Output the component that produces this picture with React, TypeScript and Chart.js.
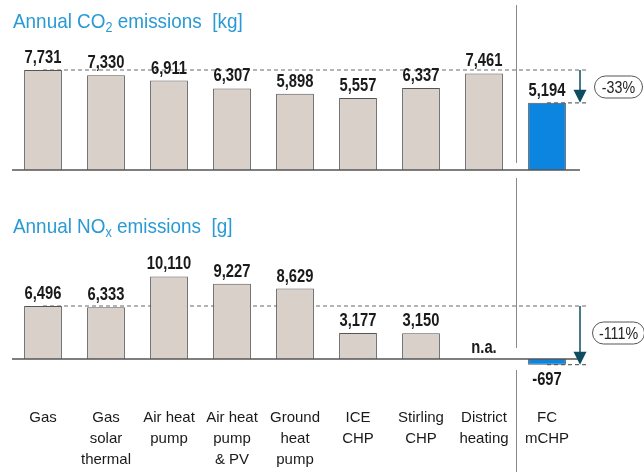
import React, { useEffect, useRef } from 'react';
import { Chart, registerables } from 'chart.js';

Chart.register(...registerables);

// ---- data ----
const categories: string[][] = [
  ['Gas'],
  ['Gas', 'solar', 'thermal'],
  ['Air heat', 'pump'],
  ['Air heat', 'pump', '& PV'],
  ['Ground', 'heat', 'pump'],
  ['ICE', 'CHP'],
  ['Stirling', 'CHP'],
  ['District', 'heating'],
  ['FC', 'mCHP'],
];
const co2Values: (number | null)[] = [7731, 7330, 6911, 6307, 5898, 5557, 6337, 7461, 5194];
const noxValues: (number | null)[] = [6496, 6333, 10110, 9227, 8629, 3177, 3150, null, -697];
const co2Change = '-33%';
const noxChange = '-111%';
const co2Title = ['Annual CO', '2', ' emissions  [kg]'];
const noxTitle = ['Annual NO', 'x', ' emissions  [g]'];

// ---- styles ----
const BEIGE = '#d9d0c9';
const BLUE = '#0b85e0';
const TITLE_BLUE = '#2a9ad5';
const ARROW = '#0e4d61';
const SANS = '"Liberation Sans", Arial, sans-serif';
const VALUE_FONT = `bold 18px ${SANS}`;
const NARROW = 0.82;

const barColors = (vals: (number | null)[]) => vals.map((_, i) => (i === vals.length - 1 ? BLUE : BEIGE));

function textScaled(ctx: CanvasRenderingContext2D, text: string, x: number, y: number, sx: number) {
  ctx.save();
  ctx.translate(x, y);
  ctx.scale(sx, 1);
  ctx.fillText(text, 0, 0);
  ctx.restore();
}

function dashed(ctx: CanvasRenderingContext2D, x1: number, y1: number, x2: number, y2: number) {
  ctx.save();
  ctx.strokeStyle = '#6a6a6a';
  ctx.lineWidth = 1.2;
  ctx.setLineDash([4, 3]);
  ctx.beginPath();
  ctx.moveTo(x1, y1);
  ctx.lineTo(x2, y2);
  ctx.stroke();
  ctx.restore();
}

function pill(ctx: CanvasRenderingContext2D, cx: number, cy: number, w: number, h: number, text: string) {
  ctx.save();
  const r = h / 2;
  const x = cx - w / 2;
  const y = cy - h / 2;
  ctx.beginPath();
  ctx.moveTo(x + r, y);
  ctx.lineTo(x + w - r, y);
  ctx.arc(x + w - r, y + r, r, -Math.PI / 2, Math.PI / 2);
  ctx.lineTo(x + r, y + h);
  ctx.arc(x + r, y + r, r, Math.PI / 2, (3 * Math.PI) / 2);
  ctx.closePath();
  ctx.fillStyle = '#fff';
  ctx.fill();
  ctx.strokeStyle = '#555';
  ctx.lineWidth = 1;
  ctx.stroke();
  ctx.fillStyle = '#222';
  ctx.font = `17px ${SANS}`;
  ctx.textAlign = 'center';
  ctx.textBaseline = 'middle';
  textScaled(ctx, text, cx, cy + 1, 0.84);
  ctx.restore();
}

function arrow(ctx: CanvasRenderingContext2D, x: number, y1: number, y2: number) {
  ctx.save();
  ctx.strokeStyle = ARROW;
  ctx.fillStyle = ARROW;
  ctx.lineWidth = 1.5;
  ctx.beginPath();
  ctx.moveTo(x, y1);
  ctx.lineTo(x, y2 - 12);
  ctx.stroke();
  ctx.beginPath();
  ctx.moveTo(x - 6.5, y2 - 13);
  ctx.lineTo(x + 6.5, y2 - 13);
  ctx.lineTo(x, y2);
  ctx.closePath();
  ctx.fill();
  ctx.restore();
}

function title(ctx: CanvasRenderingContext2D, parts: string[], x: number, y: number) {
  const sx = 0.9;
  ctx.save();
  ctx.fillStyle = TITLE_BLUE;
  ctx.textAlign = 'left';
  ctx.textBaseline = 'alphabetic';
  ctx.font = `21px ${SANS}`;
  textScaled(ctx, parts[0], x, y, sx);
  let cx = x + ctx.measureText(parts[0]).width * sx;
  ctx.font = `14px ${SANS}`;
  textScaled(ctx, parts[1], cx, y + 4, sx);
  cx += ctx.measureText(parts[1]).width * sx;
  ctx.font = `21px ${SANS}`;
  textScaled(ctx, parts[2], cx, y, sx);
  ctx.restore();
}

function vline(ctx: CanvasRenderingContext2D, x: number, segs: [number, number][]) {
  ctx.save();
  ctx.strokeStyle = '#8a8a8a';
  ctx.lineWidth = 1;
  segs.forEach(([a, b]) => {
    ctx.beginPath();
    ctx.moveTo(x, a);
    ctx.lineTo(x, b);
    ctx.stroke();
  });
  ctx.restore();
}

function makePlugin(
  values: (number | null)[],
  change: string,
  titleParts: string[],
  titleY: number,
  pillCy: number,
  pillW: number,
  vsegs: [number, number][]
) {
  return {
    id: 'panelDeco',
    beforeDatasetsDraw(chart: any) {
      const ctx = chart.ctx;
      const xs = chart.scales.x;
      const ys = chart.scales.y;
      const last = values.length - 1;
      const endX = xs.right + 10.5;
      const yRef = ys.getPixelForValue(values[0] as number);
      const yFc = ys.getPixelForValue(values[last] as number);
      dashed(ctx, xs.getPixelForValue(0), yRef, endX, yRef);
      dashed(ctx, xs.getPixelForValue(last), yFc, endX, yFc);
    },
    afterDatasetsDraw(chart: any) {
      const ctx = chart.ctx;
      const xs = chart.scales.x;
      const ys = chart.scales.y;
      const last = values.length - 1;
      const y0 = ys.getPixelForValue(0);
      // baseline
      ctx.save();
      ctx.strokeStyle = '#555';
      ctx.lineWidth = 1.5;
      ctx.beginPath();
      ctx.moveTo(xs.left + 0.5, y0);
      ctx.lineTo(xs.right + 1.5, y0);
      ctx.stroke();
      ctx.restore();
      // value labels
      ctx.save();
      ctx.font = VALUE_FONT;
      ctx.fillStyle = '#1a1a1a';
      ctx.textAlign = 'center';
      values.forEach((v, i) => {
        const px = xs.getPixelForValue(i);
        if (v === null) {
          ctx.textBaseline = 'alphabetic';
          textScaled(ctx, 'n.a.', px, y0 - 6, NARROW);
        } else if (v >= 0) {
          ctx.textBaseline = 'alphabetic';
          textScaled(ctx, v.toLocaleString('en-US'), px, ys.getPixelForValue(v) - 7, NARROW);
        } else {
          ctx.textBaseline = 'top';
          textScaled(ctx, v.toLocaleString('en-US'), px, ys.getPixelForValue(v) + 6, NARROW);
        }
      });
      ctx.restore();
      // arrow and change pill
      const yRef = ys.getPixelForValue(values[0] as number);
      const yFc = ys.getPixelForValue(values[last] as number);
      arrow(ctx, xs.right + 1.5, yRef, yFc);
      pill(ctx, xs.right + 40, pillCy, pillW, 22, change);
      // title
      title(ctx, titleParts, 13, titleY);
      // separator
      const sepX = (xs.getPixelForValue(last - 1) + xs.getPixelForValue(last)) / 2;
      vline(ctx, Math.round(sepX) + 0.5, vsegs);
    },
  };
}

export default function App() {
  const topRef = useRef<HTMLCanvasElement | null>(null);
  const botRef = useRef<HTMLCanvasElement | null>(null);

  useEffect(() => {
    const labels = categories;
    const top = new Chart(topRef.current as HTMLCanvasElement, {
      type: 'bar',
      data: {
        labels,
        datasets: [
          {
            data: co2Values,
            backgroundColor: barColors(co2Values),
            borderColor: '#555',
            borderWidth: 1,
            categoryPercentage: 1,
            barPercentage: 0.6,
          },
        ],
      },
      options: {
        responsive: false,
        animation: false,
        devicePixelRatio: 1,
        layout: { padding: { left: 11.5, right: 65.5, top: 40, bottom: 20 } },
        plugins: { legend: { display: false }, tooltip: { enabled: false }, title: { display: false } },
        scales: {
          x: { display: false },
          y: { display: false, min: 0, max: 10050 },
        },
      },
      plugins: [makePlugin(co2Values, co2Change, co2Title, 28, 87, 48, [[5, 163], [178, 190]])],
    } as any);

    const bot = new Chart(botRef.current as HTMLCanvasElement, {
      type: 'bar',
      data: {
        labels,
        datasets: [
          {
            data: noxValues,
            backgroundColor: barColors(noxValues),
            borderColor: '#555',
            borderWidth: 1,
            categoryPercentage: 1,
            barPercentage: 0.6,
          },
        ],
      },
      options: {
        responsive: false,
        animation: false,
        devicePixelRatio: 1,
        layout: { padding: { left: 11.5, right: 65.5, top: 30, bottom: 0 } },
        plugins: { legend: { display: false }, tooltip: { enabled: false }, title: { display: false } },
        scales: {
          x: {
            display: true,
            grid: { display: false, drawTicks: false },
            border: { display: false },
            afterFit: (scale: any) => {
              scale.height = 90;
            },
            ticks: {
              autoSkip: false,
              maxRotation: 0,
              minRotation: 0,
              padding: 25,
              color: '#1a1a1a',
              font: { family: '"Liberation Sans", Arial, sans-serif', size: 15, lineHeight: '21px' },
            },
          },
          y: { display: false, min: -2819, max: 17034 },
        },
      },
      plugins: [makePlugin(noxValues, noxChange, noxTitle, 43, 143, 52, [[0, 158], [180, 282]])],
    } as any);

    return () => {
      top.destroy();
      bot.destroy();
    };
  }, []);

  return (
    <div style={{ position: 'fixed', left: 0, top: 0, width: 644, height: 472, background: '#fff' }}>
      <canvas ref={topRef} width={644} height={190} style={{ position: 'absolute', left: 0, top: 0, width: 644, height: 190 }} />
      <canvas ref={botRef} width={644} height={282} style={{ position: 'absolute', left: 0, top: 190, width: 644, height: 282 }} />
    </div>
  );
}
